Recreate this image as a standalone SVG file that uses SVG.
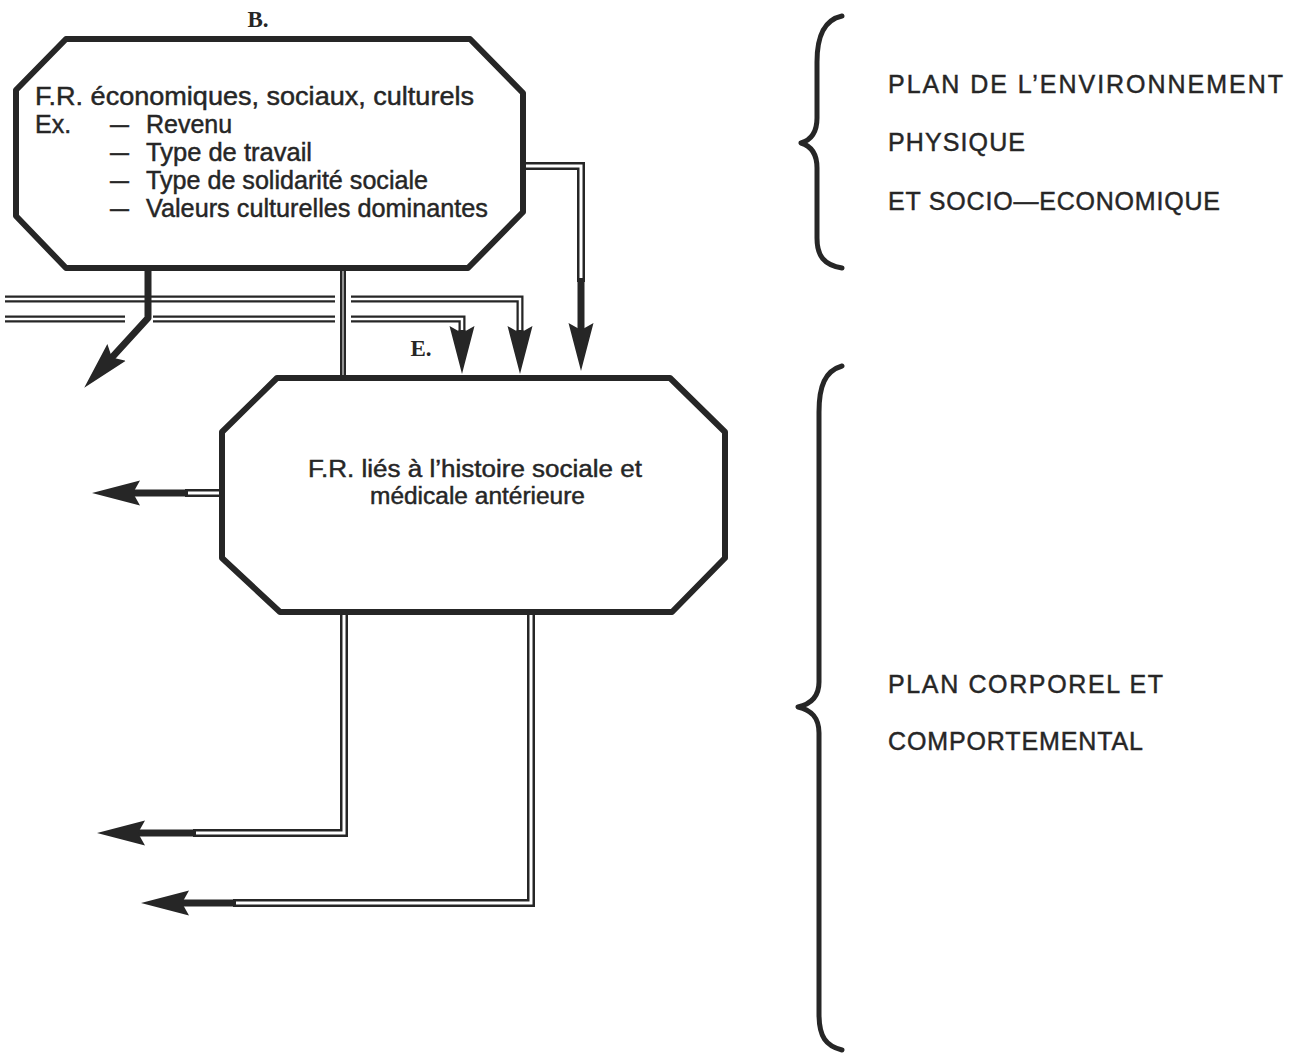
<svg xmlns="http://www.w3.org/2000/svg" width="1298" height="1055" viewBox="0 0 1298 1055">
<style>
  .box { fill: none; stroke: #262626; stroke-width: 6; stroke-linejoin: round; }
  .txt { font-family: "Liberation Sans", Arial, sans-serif; font-size: 25px; fill: #262626; stroke: #262626; stroke-width: 0.45; }
  .txe { font-family: "Liberation Sans", Arial, sans-serif; font-size: 23px; fill: #262626; stroke: #262626; stroke-width: 0.45; }
  .cap { font-family: "Liberation Sans", Arial, sans-serif; font-size: 25px; fill: #262626; stroke: #262626; stroke-width: 0.45; }
  .lbl { font-family: "Liberation Serif", "Times New Roman", serif; font-weight: bold; font-size: 23px; fill: #262626; }
  .dbo { fill: none; stroke: #262626; stroke-width: 7; stroke-linejoin: miter; }
  .dbi { fill: none; stroke: #ffffff; stroke-width: 2.5; stroke-linejoin: miter; }
  .thick { fill: none; stroke: #262626; stroke-width: 7; stroke-linejoin: round; }
  .halo { fill: none; stroke: #ffffff; stroke-width: 16; }
  .brace { fill: none; stroke: #262626; stroke-width: 5; stroke-linecap: round; stroke-linejoin: round; }
</style>
<defs>
  <marker id="ah" markerUnits="userSpaceOnUse" markerWidth="48" markerHeight="28" viewBox="0 0 48 28" refX="32" refY="14" orient="auto">
    <path d="M0,1.5 L48,14 L0,26.5 L7,14 Z" fill="#262626"/>
  </marker>
</defs>
<rect x="0" y="0" width="1298" height="1055" fill="#ffffff"/>

<g id="connectors">
  <path class="dbo" d="M5,299 L520,299 L520,334"/>
  <path class="dbi" d="M5,299 L520,299 L520,334"/>
  <path class="dbo" d="M5,319 L125,319"/>
  <path class="dbi" d="M5,319 L125,319"/>
  <path class="dbo" d="M153,319 L462,319 L462,334"/>
  <path class="dbi" d="M153,319 L462,319 L462,334"/>
  <path class="thick" d="M520,330 L520,358" marker-end="url(#ah)"/>
  <path class="thick" d="M462,330 L462,358" marker-end="url(#ah)"/>
  <path class="thick" d="M148,268 L148,318 L95,376" marker-end="url(#ah)"/>
  <path class="halo" d="M343,288 L343,330"/>
  <path class="dbo" d="M343,268 L343,378" style="stroke-width:6"/>
  <path class="dbi" d="M343,268 L343,378" style="stroke-width:1"/>
  <path class="dbo" d="M522,166 L581,166 L581,282" style="stroke-width:8"/>
  <path class="dbi" d="M522,166 L581,166 L581,282" style="stroke-width:3"/>
  <path class="thick" d="M581,278 L581,355" marker-end="url(#ah)"/>
  <path class="dbo" d="M222,493 L185,493" style="stroke-width:8"/>
  <path class="dbi" d="M222,493 L185,493" style="stroke-width:3"/>
  <path class="thick" d="M188,493 L108,493" marker-end="url(#ah)"/>
  <path class="dbo" d="M344,612 L344,833 L193,833" style="stroke-width:8"/>
  <path class="dbi" d="M344,612 L344,833 L193,833" style="stroke-width:3"/>
  <path class="thick" d="M196,833 L113,833" marker-end="url(#ah)"/>
  <path class="dbo" d="M531,612 L531,903 L233,903" style="stroke-width:8"/>
  <path class="dbi" d="M531,612 L531,903 L233,903" style="stroke-width:3"/>
  <path class="thick" d="M236,903 L157,903" marker-end="url(#ah)"/>
</g>

<g id="node-B">
  <text class="lbl" x="258" y="27" text-anchor="middle">B.</text>
  <polygon class="box" points="66,39 470,39 523,93 523,212 468,268 66,268 16,216 16,90"/>
  <text class="txt" x="35" y="105" textLength="439" lengthAdjust="spacingAndGlyphs">F.R. économiques, sociaux, culturels</text>
  <text class="txt" x="35" y="133">Ex.</text>
  <text class="txt" x="110" y="133" textLength="19" lengthAdjust="spacingAndGlyphs">—</text>
  <text class="txt" x="146" y="133">Revenu</text>
  <text class="txt" x="110" y="161" textLength="19" lengthAdjust="spacingAndGlyphs">—</text>
  <text class="txt" x="146" y="161" textLength="166" lengthAdjust="spacingAndGlyphs">Type de travail</text>
  <text class="txt" x="110" y="189" textLength="19" lengthAdjust="spacingAndGlyphs">—</text>
  <text class="txt" x="146" y="189" textLength="282" lengthAdjust="spacingAndGlyphs">Type de solidarité sociale</text>
  <text class="txt" x="110" y="217" textLength="19" lengthAdjust="spacingAndGlyphs">—</text>
  <text class="txt" x="146" y="217" textLength="342" lengthAdjust="spacingAndGlyphs">Valeurs culturelles dominantes</text>
</g>

<g id="node-E">
  <text class="lbl" x="421" y="356" text-anchor="middle">E.</text>
  <polygon class="box" points="277,378 670,378 725,432 725,558 672,612 280,612 222,558 222,432"/>
  <text class="txe" x="308" y="477" textLength="334" lengthAdjust="spacingAndGlyphs">F.R. liés à l’histoire sociale et</text>
  <text class="txe" x="370" y="504" textLength="215" lengthAdjust="spacingAndGlyphs">médicale antérieure</text>
</g>

<g id="plan-environnement">
  <path class="brace" d="M842,16 C824,20 817,36 817,62 L817,118 C817,132 811,140 801,143 C811,146 817,154 817,168 L817,238 C817,256 824,265 842,268"/>
  <text class="cap" x="888" y="93" textLength="395" lengthAdjust="spacing">PLAN DE L’ENVIRONNEMENT</text>
  <text class="cap" x="888" y="151" textLength="137" lengthAdjust="spacing">PHYSIQUE</text>
  <text class="cap" x="888" y="210" textLength="332" lengthAdjust="spacing">ET SOCIO—ECONOMIQUE</text>
</g>

<g id="plan-corporel">
  <path class="brace" d="M842,366 C825,371 819,386 819,412 L819,682 C819,697 811,704 798,707 C811,710 819,717 819,733 L819,1014 C819,1037 826,1046 842,1050"/>
  <text class="cap" x="888" y="693" textLength="275" lengthAdjust="spacing">PLAN CORPOREL ET</text>
  <text class="cap" x="888" y="750" textLength="255" lengthAdjust="spacing">COMPORTEMENTAL</text>
</g>
</svg>
